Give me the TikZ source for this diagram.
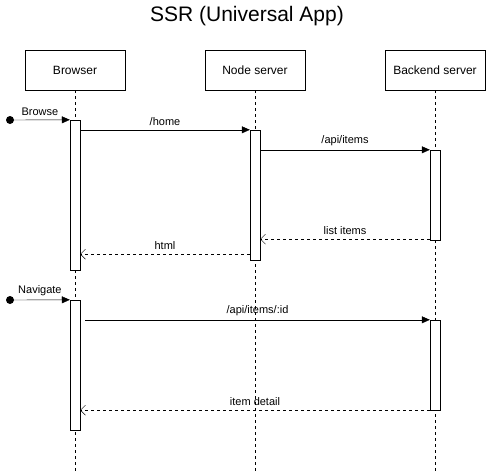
\documentclass[tikz,border=0pt]{standalone}
\usepackage{fontspec}
\setmainfont{Liberation Sans}
\usetikzlibrary{arrows.meta,positioning,calc}

\begin{document}
\begin{tikzpicture}[x=1pt,y=-1pt,
    actor/.style={draw, minimum width=100pt, minimum height=40pt, inner sep=0pt, font=\fontsize{12}{14}\selectfont},
    bar/.style={draw, fill=white, minimum width=10pt, inner sep=0pt},
    life/.style={dash pattern=on 3pt off 3pt},
    msg/.style={-{Triangle[length=8pt,width=7pt]}},
    ret/.style={dash pattern=on 3pt off 3pt, -{Straight Barb[length=5pt,width=10pt]}},
    lbl/.style={font=\fontsize{11}{13}\selectfont, above=3pt, inner sep=1pt}]
    \useasboundingbox (0,0) rectangle (486,471);

    % Title
    \node[font=\fontsize{21}{24}\selectfont] (title) at (247,16) {SSR (Universal App)};

    % Participants
    \node[actor] (browser) at (75,70) {Browser};
    \node[actor] (node) at (255,70) {Node server};
    \node[actor] (backend) at (435,70) {Backend server};

    % Lifelines
    \coordinate (endB) at (75,471);
    \coordinate (endN) at (255,471);
    \coordinate (endK) at (435,471);
    \draw[life] (browser.south) -- (endB);
    \draw[life] (node.south) -- (endN);
    \draw[life] (backend.south) -- (endK);

    % Activation bars
    \node[bar, minimum height=150pt] (actB1) at (75,195) {};
    \node[bar, minimum height=130pt] (actN1) at (255,195) {};
    \node[bar, minimum height=90pt] (actK1) at (435,195) {};
    \node[bar, minimum height=130pt] (actB2) at (75,365) {};
    \node[bar, minimum height=90pt] (actK2) at (435,365) {};

    % Browse
    \coordinate (start1) at (10,120);
    \fill (start1) circle (4pt);
    \draw[msg] (start1) -- (actB1.north west) node[lbl, midway] {Browse};
    \draw[msg] (actB1.east |- actN1.north) -- (actN1.north west) node[lbl, midway] {/home};
    \draw[msg] (actN1.east |- actK1.north) -- (actK1.north west) node[lbl, midway] {/api/items};
    \draw[ret] ($(actK1.south west)+(0,-1)$) -- ($(actN1.east |- actK1.south)+(0,-1)$) node[lbl, midway] {list items};
    \draw[ret] ($(actN1.south west)+(0,-6)$) -- ($(actB1.east |- actN1.south)+(0,-6)$) node[lbl, midway] {html};

    % Navigate
    \coordinate (start2) at (10,300);
    \fill (start2) circle (4pt);
    \draw[msg] (start2) -- (actB2.north west) node[lbl, midway] {Navigate};
    \draw[msg] ($(actB2.east |- actK2.north)+(5,0)$) -- (actK2.north west) node[lbl, midway] {/api/items/:id};
    \draw[ret] (actK2.south west) -- (actB2.east |- actK2.south) node[lbl, midway] {item detail};
\end{tikzpicture}
\end{document}
